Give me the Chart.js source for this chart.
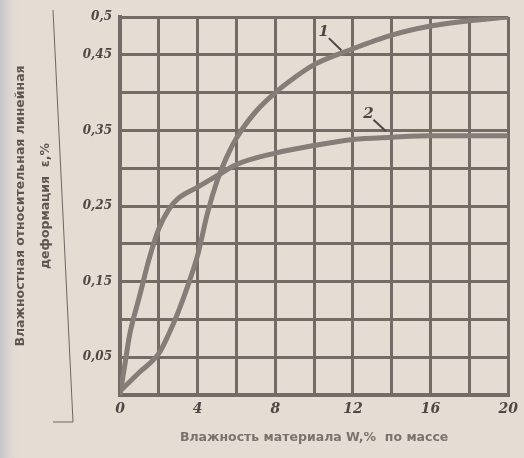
<!DOCTYPE html>
<html>
<head>
<meta charset="utf-8">
<script src="https://cdn.jsdelivr.net/npm/chart.js@4.4.1/dist/chart.umd.min.js"></script>
<style>
  html, body { margin: 0; padding: 0; background: #e6ded5; }
  #wrap { width: 524px; height: 458px; }
</style>
</head>
<body>
<div id="wrap"><canvas id="strainChart" width="524" height="458"></canvas></div>
<script>
// кривая 1
const moisture1 = [0, 1, 2, 2.5, 3, 3.5, 4, 4.5, 5, 5.5, 6, 7, 8, 9, 10, 12, 14, 16, 18, 20];
const strain1 = [0.005, 0.03, 0.055, 0.08, 0.11, 0.145, 0.185, 0.24, 0.283, 0.315, 0.34, 0.375, 0.4, 0.42, 0.437, 0.458, 0.476, 0.488, 0.495, 0.5];

// кривая 2
const moisture2 = [0, 0.25, 0.5, 1, 1.5, 2, 2.5, 3, 4, 5, 6, 8, 10, 12, 14, 16, 18, 20];
const strain2 = [0, 0.04, 0.08, 0.13, 0.18, 0.22, 0.245, 0.26, 0.275, 0.29, 0.305, 0.32, 0.33, 0.338, 0.341, 0.343, 0.343, 0.343];

const xTicks = [0, 4, 8, 12, 16, 20];
const yTicks = [0.05, 0.15, 0.25, 0.35, 0.45, 0.5];
const yTickLabels = ['0,05', '0,15', '0,25', '0,35', '0,45', '0,5'];

// подписи кривых: текст, точка подписи, точка на кривой
const curveNames = ['1', '2'];
const nameAt = [[10.5, 0.48], [12.8, 0.372]];
const leaderTo = [[11.4, 0.456], [13.7, 0.349]];

const ink = '#4f4744';
const gridInk = '#746a66';
const curveInk = '#867c78';

const toPoints = (xs, ys) => xs.map((x, i) => ({ x: x, y: ys[i] }));

const paper = {
    id: 'paper',
    beforeDraw(chart) {
        const c = chart.ctx;
        c.save();
        c.fillStyle = '#e5ddd4';
        c.fillRect(0, 0, chart.width, chart.height);
        const g = c.createLinearGradient(0, 0, 22, 0);
        g.addColorStop(0, '#c4c5c8');
        g.addColorStop(1, 'rgba(229,221,212,0)');
        c.fillStyle = g;
        c.fillRect(0, 0, 22, chart.height);
        // край листа
        c.strokeStyle = '#6f6663';
        c.lineWidth = 1;
        c.beginPath();
        c.moveTo(53, 10);
        c.lineTo(73, 422);
        c.lineTo(53, 422);
        c.stroke();
        c.restore();
    }
};

const curveLabels = {
    id: 'curveLabels',
    afterDatasetsDraw(chart) {
        const c = chart.ctx;
        const sx = chart.scales.x, sy = chart.scales.y;
        c.save();
        c.fillStyle = ink;
        c.strokeStyle = ink;
        c.lineWidth = 2;
        c.font = 'italic bold 15px "DejaVu Serif"';
        c.textAlign = 'center';
        c.textBaseline = 'middle';
        curveNames.forEach((name, i) => {
            const px = sx.getPixelForValue(nameAt[i][0]);
            const py = sy.getPixelForValue(nameAt[i][1]);
            c.fillText(name, px, py);
            c.beginPath();
            c.moveTo(px + 5, py + 6);
            c.lineTo(sx.getPixelForValue(leaderTo[i][0]), sy.getPixelForValue(leaderTo[i][1]));
            c.stroke();
        });
        c.restore();
    }
};

new Chart(document.getElementById('strainChart'), {
    type: 'line',
    data: {
        datasets: [
            {
                label: '1',
                data: toPoints(moisture1, strain1),
                borderColor: curveInk,
                borderWidth: 5,
                pointRadius: 0,
                cubicInterpolationMode: 'monotone'
            },
            {
                label: '2',
                data: toPoints(moisture2, strain2),
                borderColor: curveInk,
                borderWidth: 5,
                pointRadius: 0,
                cubicInterpolationMode: 'monotone'
            }
        ]
    },
    options: {
        responsive: false,
        animation: false,
        layout: { padding: { top: 17, right: 11, left: 0, bottom: 0 } },
        plugins: {
            legend: { display: false },
            tooltip: { enabled: false }
        },
        scales: {
            x: {
                type: 'linear',
                min: 0,
                max: 20,
                afterFit: s => { s.height = 63; },
                grid: { color: gridInk, lineWidth: 3, drawTicks: false },
                border: { color: gridInk, width: 4 },
                ticks: {
                    stepSize: 2,
                    padding: 6,
                    color: ink,
                    font: { family: '"DejaVu Serif"', style: 'italic', weight: 'bold', size: 14 },
                    callback: v => xTicks.includes(v) ? String(v) : ''
                },
                title: {
                    display: true,
                    text: 'Влажность материала W,%  по массе',
                    color: '#7b726e',
                    padding: { top: 0, bottom: 13 },
                    font: { family: '"DejaVu Sans"', weight: 'bold', size: 12.5 }
                }
            },
            y: {
                min: 0,
                max: 0.5,
                afterFit: s => { s.width = 120; },
                grid: { color: gridInk, lineWidth: 3, drawTicks: false },
                border: { color: gridInk, width: 4 },
                ticks: {
                    stepSize: 0.05,
                    padding: 8,
                    color: ink,
                    font: { family: '"DejaVu Serif"', style: 'italic', weight: 'bold', size: 12 },
                    callback: v => {
                        const k = yTicks.findIndex(t => Math.abs(t - v) < 1e-6);
                        return k >= 0 ? yTickLabels[k] : '';
                    }
                },
                title: {
                    display: true,
                    text: ['Влажностная относительная линейная', 'деформация  ε,%'],
                    color: '#5e5653',
                    padding: { top: 8, bottom: 0 },
                    font: { family: '"DejaVu Sans"', weight: 'bold', size: 12.5, lineHeight: 2 }
                }
            }
        }
    },
    plugins: [paper, curveLabels]
});
</script>
</body>
</html>
